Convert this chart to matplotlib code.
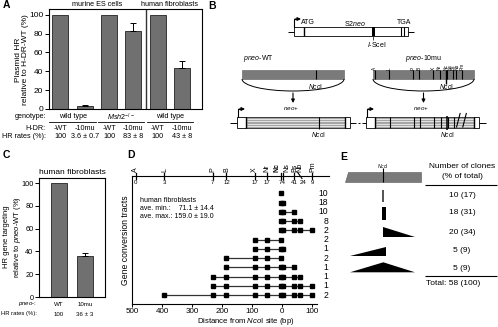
import matplotlib
matplotlib.use("Agg")
import matplotlib.pyplot as plt
import numpy as np
from matplotlib.patches import Rectangle, Polygon, Arc
from matplotlib.transforms import blended_transform_factory

plt.rcParams['font.family'] = ['Liberation Sans', 'DejaVu Sans']
plt.rcParams['mathtext.fontset'] = 'custom'
plt.rcParams['mathtext.rm'] = 'Liberation Sans'
plt.rcParams['mathtext.it'] = 'Liberation Sans:italic'
plt.rcParams['mathtext.bf'] = 'Liberation Sans:bold'

W, H = 498, 327

# ---------------- data ----------------
# A: plasmid HR
a_cells = ['murine ES cells', 'human fibroblasts']
a_genotypes = ['wild type', r'$\it{Msh2}^{-/-}$', 'wild type']
a_hdr = ['-WT', '-10mu', '-WT', '-10mu', '-WT', '-10mu']
a_values = [100, 3.6, 100, 83, 100, 43]
a_err = [0, 0.7, 0, 8, 0, 8]
a_rates = ['100', '3.6 ± 0.7', '100', '83 ± 8', '100', '43 ± 8']

# C: gene targeting
c_labels = ['WT', '10mu']
c_values = [100, 36]
c_err = [0, 3]
c_rates = ['100', '36 ± 3']

# D: gene conversion tracts
site_names = ['A', 'L', 'P', 'B', 'X', 'Nr', 'Nc', 'Ns', 'Bs', 'Nb', 'Pm']
site_pos = [-487, -392, -232, -186, -92, -50, -6, 3, 40, 58, 100]
site_counts = ['0', '3', '7', '12', '17', '17', '74', '', '41', '24', '9']
tracts = [
    ['Nc'],
    ['Nc', 'Ns'],
    ['Nc', 'Ns', 'Bs'],
    ['Nc', 'Ns', 'Bs', 'Nb'],
    ['Nc', 'Ns', 'Bs', 'Nb', 'Pm'],
    ['X', 'Nr', 'Nc'],
    ['X', 'Nr', 'Nc', 'Ns'],
    ['B', 'X', 'Nr', 'Nc'],
    ['B', 'X', 'Nr', 'Nc', 'Ns', 'Bs'],
    ['P', 'B', 'X', 'Nr', 'Nc', 'Ns', 'Bs', 'Nb'],
    ['P', 'B', 'X', 'Nr', 'Nc', 'Ns', 'Bs', 'Nb', 'Pm'],
    ['L', 'P', 'B', 'X', 'Nr', 'Nc', 'Ns', 'Bs', 'Nb', 'Pm'],
]
tract_clones = [10, 18, 10, 8, 2, 2, 1, 2, 1, 1, 1, 2]
d_xticks = [-500, -400, -300, -200, -100, 0, 100]

# E: tract classes
e_counts = [10, 18, 20, 5, 5]
e_pct = [17, 31, 34, 9, 9]

BAR = '#707070'

fig = plt.figure(figsize=(W / 100, H / 100), dpi=100)


def add_ax(x0, y0, x1, y1):
    return fig.add_axes([x0 / W, 1 - y1 / H, (x1 - x0) / W, (y1 - y0) / H])


ov = fig.add_axes([0, 0, 1, 1])
ov.set_xlim(0, W)
ov.set_ylim(H, 0)
ov.axis('off')
ov.set_zorder(5)

for lab, (x, y) in zip('ABCDE', [(3, 5), (208, 6), (3, 155), (127, 155), (340, 157)]):
    ov.text(x, y, lab, fontsize=7.5, fontweight='bold', ha='left', va='center')


def style_bar_ax(ax):
    for s in ax.spines.values():
        s.set_linewidth(0.8)
    ax.set_xticks([])
    ax.tick_params(axis='y', length=3, width=0.7, pad=1)


# ---------------- A ----------------
axA = add_ax(49, 9, 202, 109)
xa = np.arange(len(a_values))
axA.bar(xa, a_values, width=0.66, color=BAR, edgecolor='#222222', lw=0.6)
ea = [i for i in xa if a_err[i] > 0]
axA.errorbar(ea, [a_values[i] for i in ea], yerr=[[0] * len(ea), [a_err[i] for i in ea]],
             fmt='none', ecolor='k', elinewidth=0.7, capsize=2.5, capthick=0.7)
axA.axvline(3.5, color='#333333', lw=1.0)
axA.set_xlim(-0.47, 5.82)
axA.set_ylim(0, 106)
axA.set_yticks(range(0, 101, 20))
axA.tick_params(axis='y', labelsize=6)
style_bar_ax(axA)

tA = blended_transform_factory(axA.transData, ov.transData)
ov.text(1.5, 4, a_cells[0], transform=tA, ha='center', va='center', fontsize=5.2)
ov.text(4.5, 4, a_cells[1], transform=tA, ha='center', va='center', fontsize=5.2)
for g, name in enumerate(a_genotypes):
    ov.text(2 * g + 0.5, 117, name, transform=tA, ha='center', va='center', fontsize=5.2)
    ov.plot([2 * g - 0.45, 2 * g + 1.45], [122, 122], transform=tA, color='k', lw=0.6)
for i in xa:
    ov.text(i, 128, a_hdr[i], transform=tA, ha='center', va='center', fontsize=5.2)
    ov.text(i, 137, a_rates[i], transform=tA, ha='center', va='center', fontsize=5.2)
ov.text(46, 117, 'genotype:', ha='right', va='center', fontsize=5.2)
ov.text(46, 128, 'H-DR:', ha='right', va='center', fontsize=5.2)
ov.text(46, 137, 'HR rates (%):', ha='right', va='center', fontsize=5.2)
ov.text(22, 60, 'Plasmid HR\nrelative to H-DR-WT (%)', rotation=90, ha='center',
        va='center', fontsize=6, linespacing=1.1)

# ---------------- C ----------------
axC = add_ax(39, 178, 105, 297)
xc = np.arange(len(c_values))
axC.bar(xc, c_values, width=0.62, color=BAR, edgecolor='#222222', lw=0.6)
axC.errorbar([1], [c_values[1]], yerr=[[0], [c_err[1]]], fmt='none', ecolor='k',
             elinewidth=0.7, capsize=2.5, capthick=0.7)
axC.set_xlim(-0.77, 1.77)
axC.set_ylim(0, 104.4)
axC.set_yticks(range(0, 101, 20))
axC.tick_params(axis='y', labelsize=5.3)
style_bar_ax(axC)
tC = blended_transform_factory(axC.transData, ov.transData)
ov.text(72, 172, 'human fibroblasts', ha='center', va='center', fontsize=6)
for i in xc:
    ov.text(i, 304, c_labels[i], transform=tC, ha='center', va='center', fontsize=4.4)
    ov.text(i, 314, c_rates[i], transform=tC, ha='center', va='center', fontsize=4.4)
ov.text(37, 304, r'$\it{pneo}$-:', ha='right', va='center', fontsize=4.4)
ov.text(37, 314, 'HR rates (%):', ha='right', va='center', fontsize=4.2)
ov.text(13, 237, 'HR gene targeting\nrelative to ' + r'$\it{pneo}$' + '-WT (%)', rotation=90,
        ha='center', va='center', fontsize=5.5, linespacing=1.2)

# ---------------- D ----------------
axD = add_ax(132, 176, 317, 304)
pos = dict(zip(site_names, site_pos))
tDr = blended_transform_factory(axD.transAxes, axD.transData)
for i, row in enumerate(tracts):
    xs = [pos[s] for s in row]
    axD.plot(xs, [i] * len(xs), color='#333333', lw=0.9, marker='s', ms=2.6,
             mfc='k', mec='k', clip_on=False)
    axD.text(1.06, i, str(tract_clones[i]), transform=tDr, ha='right', va='center',
             fontsize=6.2)
axD.set_xlim(-500, 115)
axD.set_ylim(len(tracts) - 0.03, -1.87)
axD.set_xticks(d_xticks)
axD.set_xticklabels([str(abs(v)) for v in d_xticks])
axD.set_yticks([])
axD.tick_params(axis='x', labelsize=5.8, length=2.5, width=0.7, pad=0.3)
for s in ['top', 'right']:
    axD.spines[s].set_visible(False)
for s in ['left', 'bottom']:
    axD.spines[s].set_linewidth(0.8)
ov.text(246, 321.5, 'Distance from ' + r'$\it{Nco}$' + 'I site (bp)', ha='center',
        va='center', fontsize=5.6)

tD = blended_transform_factory(axD.transData, axD.transAxes)
dy = 1 / 128.0
axD.plot([-500, 156], [1, 1], transform=tD, color='k', lw=0.8, clip_on=False)
for name, x, cnt in zip(site_names, site_pos, site_counts):
    if name == 'Nb':
        axD.plot([x - 7, x + 7], [1 + 3.5 * dy, 1 - 2.5 * dy], transform=tD, color='k',
                 lw=0.8, clip_on=False)
    else:
        axD.plot([x, x], [1 + 3.5 * dy, 1 - 3 * dy], transform=tD, color='k', lw=0.9,
                 clip_on=False)
    ha = {'Nc': 'right', 'Ns': 'left'}.get(name, 'center')
    axD.text(x, 1 + 4.5 * dy, name, transform=tD, rotation=90, ha=ha, va='bottom',
             fontsize=5, fontweight='bold' if name == 'Nc' else 'normal')
    if cnt:
        cx = (pos['Nc'] + pos['Ns']) / 2 if name == 'Nc' else x + (12 if name == 'Nb' else 0)
        axD.text(cx, 1 - 4.5 * dy, cnt, transform=tD, ha='center', va='top', fontsize=4.4)
ov.text(140, 200, 'human fibroblasts', fontsize=5, va='center')
ov.text(140, 208.5, 'ave. min.:    71.1 ± 14.4', fontsize=5, va='center')
ov.text(140, 217, 'ave. max.: 159.0 ± 19.0', fontsize=5, va='center')
ov.text(125, 240, 'Gene conversion tracts', rotation=90, ha='center', va='center', fontsize=6.2)

# ---------------- B (schematic) ----------------
def vline(x, y0, y1, lw=0.8, color='k'):
    ov.plot([x, x], [y0, y1], color=color, lw=lw, solid_capstyle='butt')


def hline(x0, x1, y, lw=0.7, color='k'):
    ov.plot([x0, x1], [y, y], color=color, lw=lw, solid_capstyle='butt')


def box(x0, x1, y0, y1, fc='white', ec='k', lw=0.6):
    ov.add_patch(Rectangle((x0, y0), x1 - x0, y1 - y0, fc=fc, ec=ec, lw=lw))


def promoter(x, ytop):
    ov.plot([x, x, x + 2], [ytop, ytop - 8, ytop - 8], color='k', lw=0.8)
    ov.annotate('', xy=(x + 7, ytop - 8), xytext=(x + 1, ytop - 8),
                arrowprops=dict(arrowstyle='-|>', color='k', lw=0.8, mutation_scale=5,
                                shrinkA=0, shrinkB=0))


def down_arrow(x, y0, y1):
    ov.annotate('', xy=(x, y1), xytext=(x, y0),
                arrowprops=dict(arrowstyle='-|>', color='k', lw=0.8, mutation_scale=5,
                                shrinkA=0, shrinkB=0))


NCO = r'$\it{Nco}$I'
# S2neo reporter
hline(288, 294, 31.5)
box(294, 408, 27, 36)
hline(408, 414, 31.5)
vline(304, 27, 36, lw=1.0)
ov.add_patch(Rectangle((372, 27), 2.6, 9, fc='k', ec='k', lw=0))
vline(373.3, 36, 40, lw=0.5)
vline(401, 27, 36)
vline(404, 27, 36)
promoter(294, 27)
ov.text(308, 23, 'ATG', ha='center', va='center', fontsize=5)
ov.text(355, 23, 'S2' + r'$\it{neo}$', ha='center', va='center', fontsize=5)
ov.text(404, 23, 'TGA', ha='center', va='center', fontsize=5)
ov.text(377, 44.5, r'$\it{I}$' + '-SceI', ha='center', va='center', fontsize=5)

b_scale = 0.148


def donor(x_nco_top, x_nco_bot, x0, x1, label, label_x, label_ha, mutant):
    # donor bar
    ov.add_patch(Rectangle((x0, 70), x1 - x0, 9, fc='#7a7a7a', ec='#5a5a5a', lw=0.4))
    ov.text(label_x, 58, label, ha=label_ha, va='center', fontsize=5)
    ov.add_patch(Arc(((x0 + x1) / 2, 79), x1 - x0, 24, theta1=0, theta2=180, lw=0.7))
    ov.text(x_nco_top, 86.5, NCO, ha='center', va='center', fontsize=4.8)
    down_arrow((x0 + x1) / 2, 93, 103)
    ov.text((x0 + x1) / 2 - 2, 109, r'$\it{neo}$+', ha='center', va='center', fontsize=4.6)
    if mutant:
        last = -99
        for name, p in zip(site_names, site_pos):
            x = x_nco_top + p * b_scale
            vline(x, 70, 84 if name == 'Nc' else 79, lw=1.0 if name == 'Nc' else 0.8)
            lx = max(x, last + 3.6)
            last = lx
            ov.text(lx, 69.5, name, rotation=90, ha='center', va='bottom', fontsize=3.4)
    else:
        vline(x_nco_top, 70, 79, lw=0.8)
    # recombined reporter
    bx0 = x_nco_bot - 82
    bx1 = x_nco_bot + 26
    promoter(bx0 + 1, 117)
    box(bx0, bx0 + 9, 117, 128)
    ov.add_patch(Rectangle((bx0 + 9, 117), bx1 - bx0 - 9, 11, fc='#a6a6a6', ec='k', lw=0.5))
    for yy in np.linspace(119.2, 125.8, 4):
        hline(bx0 + 9.5, bx1 - 0.5, yy, lw=0.5, color='white')
    box(bx1, bx1 + 4.5, 117, 128)
    vline(bx0 + 9, 117, 128, lw=1.0)
    vline(bx1, 117, 128, lw=1.0)
    if mutant:
        for name, p in zip(site_names[1:], site_pos[1:]):
            x = x_nco_bot + p * b_scale
            if name in ('Nb', 'Pm'):
                ov.plot([x, x + 3.5], [127, 113.5], color='k', lw=0.8)
            else:
                vline(x, 116 if name == 'Nc' else 117, 130 if name == 'Nc' else 128,
                      lw=1.1 if name == 'Nc' else 0.8)
    else:
        vline(x_nco_bot, 117, 129, lw=0.8)
    ov.text(x_nco_bot, 134.5, NCO, ha='center', va='center', fontsize=4.8)
    return bx0, bx1 + 4.5


l0, r0 = donor(316, 319, 242, 344, r'$\it{pneo}$-WT', 243, 'left', False)
l1, r1 = donor(447, 448, 373, 474, r'$\it{pneo}$-10mu', 424, 'center', True)
hline(l0 - 7, l0, 122.5)
hline(r0, r0 + 6, 122.5)
hline(r0 + 8, r0 + 10, 122.5)
hline(l1 - 4, l1, 122.5)
hline(r1, r1 + 7, 122.5)

# ---------------- E (schematic + table) ----------------
ov.add_patch(Polygon([(348, 172), (421, 172), (421, 182), (345, 182)], closed=True,
                     fc='#7a7a7a', ec='#5a5a5a', lw=0.4))
vline(383.3, 168, 182, lw=0.8)
ov.text(383.3, 165.5, NCO, ha='center', va='center', fontsize=3.6)
vline(383.3, 190, 202, lw=1.3, color='#444444')
ov.add_patch(Rectangle((382, 207), 4.3, 12.5, fc='k', ec='k', lw=0))
ov.add_patch(Polygon([(383.3, 226.7), (383.3, 236.7), (415, 236.7)], closed=True, fc='k', lw=0))
ov.add_patch(Polygon([(386, 246.7), (386, 256.3), (350, 256.3)], closed=True, fc='k', lw=0))
ov.add_patch(Polygon([(383.3, 262.3), (415, 272.3), (350, 272.3)], closed=True, fc='k', lw=0))

ov.text(462, 167, 'Number of clones', ha='center', va='center', fontsize=6)
ov.text(462, 177, '(% of total)', ha='center', va='center', fontsize=6)
hline(425, 497, 184.5, lw=0.8)
for yy, n, p in zip([195.5, 212.5, 232, 251, 268.5], e_counts, e_pct):
    ov.text(462, yy, f'{n} ({p})', ha='center', va='center', fontsize=6)
hline(425, 497, 275.5, lw=0.8)
ov.text(426, 283.5, f'Total: {sum(e_counts)} ({sum(e_pct)})', ha='left', va='center', fontsize=6)

fig.savefig('out.png', dpi=100)
